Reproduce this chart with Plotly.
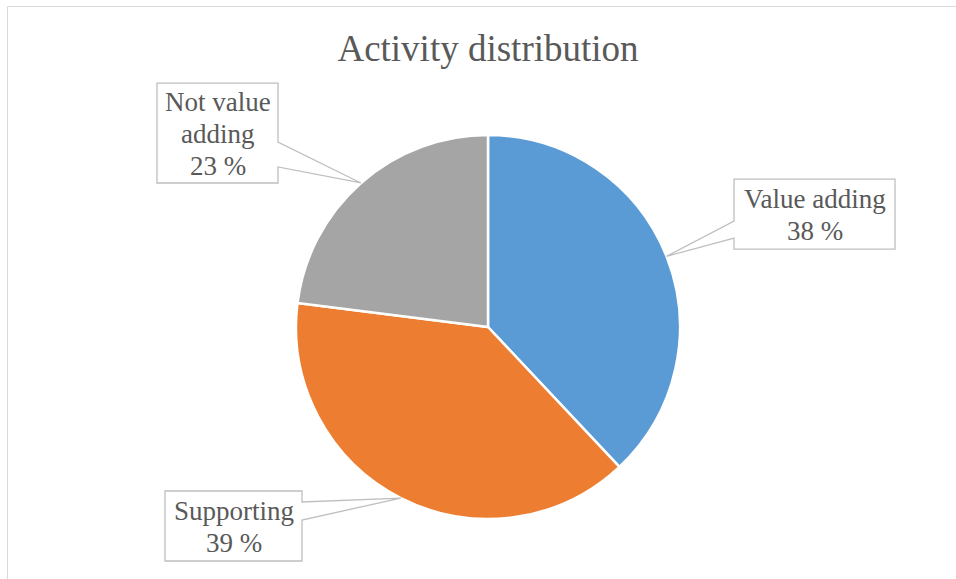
import math
import plotly.graph_objects as go

# data
labels = ["Value adding", "Supporting", "Not value adding"]
values = [38, 39, 23]
label_lines = [["Value adding", "38 %"], ["Supporting", "39 %"], ["Not value", "adding", "23 %"]]
colors = ["#5b9bd5", "#ed7d31", "#a5a5a5"]

W, H = 956, 579
CX, CY, R = 488, 327, 192  # pie centre / radius in pixels
LINE_H = 32

# callout boxes: (x0, y0, x1, y1, side, wedge_y0, wedge_y1)
boxes = [
    (734, 179, 895, 249, "left", 221, 238),
    (165, 491, 302, 561, "right", 502, 520),
    (157, 83, 278, 183, "right", 142, 167),
]


def px(x):
    return x / W


def py(y):
    return 1 - y / H


def slice_tips():
    # point on the rim at each slice's mid angle (clockwise from 12 o'clock)
    total = sum(values)
    tips = []
    start = 0
    for v in values:
        mid = (start + v / 2) / total * 2 * math.pi
        tips.append((CX + R * math.sin(mid), CY - R * math.cos(mid)))
        start += v
    return tips


def callout_path(box, tip):
    x0, y0, x1, y1, side, wy0, wy1 = box
    tx, ty = tip
    if side == "left":
        pts = [(x0, y0), (x1, y0), (x1, y1), (x0, y1), (x0, wy1), (tx, ty), (x0, wy0)]
    else:
        pts = [(x0, y0), (x1, y0), (x1, wy0), (tx, ty), (x1, wy1), (x1, y1), (x0, y1)]
    return "M " + " L ".join("{:.4f},{:.4f}".format(px(a), py(b)) for a, b in pts) + " Z"


fig = go.Figure()
fig.add_trace(go.Pie(
    labels=labels, values=values, sort=False, direction="clockwise", rotation=0,
    marker=dict(colors=colors, line=dict(color="white", width=2.5)),
    textinfo="none", hoverinfo="label+percent", showlegend=False,
    domain=dict(x=[px(CX - R), px(CX + R)], y=[py(CY + R), py(CY - R)]),
))

shapes = [dict(type="rect", xref="paper", yref="paper",
               x0=px(7.5), y0=py(595), x1=px(975), y1=py(6.5),
               line=dict(color="#d9d9d9", width=1), fillcolor="rgba(0,0,0,0)", layer="below")]
annotations = []
for box, tip, lines in zip(boxes, slice_tips(), label_lines):
    shapes.append(dict(type="path", xref="paper", yref="paper", path=callout_path(box, tip),
                       line=dict(color="#bfbfbf", width=1.3), fillcolor="white", layer="above"))
    x0, y0, x1, y1 = box[:4]
    cy = (y0 + y1) / 2 + 1
    for i, line in enumerate(lines):
        ly = cy + (i - (len(lines) - 1) / 2) * LINE_H
        annotations.append(dict(x=px((x0 + x1) / 2), y=py(ly), xref="paper", yref="paper",
                                text=line, showarrow=False, xanchor="center", yanchor="middle",
                                font=dict(family="Liberation Serif", size=27, color="#595959")))

fig.update_layout(
    width=W, height=H, margin=dict(l=0, r=0, t=0, b=0),
    paper_bgcolor="white", plot_bgcolor="white",
    title=dict(text="Activity distribution", x=px(488), xanchor="center", y=py(48), yanchor="middle",
               font=dict(family="Liberation Serif", size=37, color="#595959")),
    shapes=shapes, annotations=annotations,
)

# page body has a default 8px margin; drop it so the figure sits at the window's corner
fig.write_html("out.html", config={"displayModeBar": False},
               post_script="document.body.style.margin='0';")
